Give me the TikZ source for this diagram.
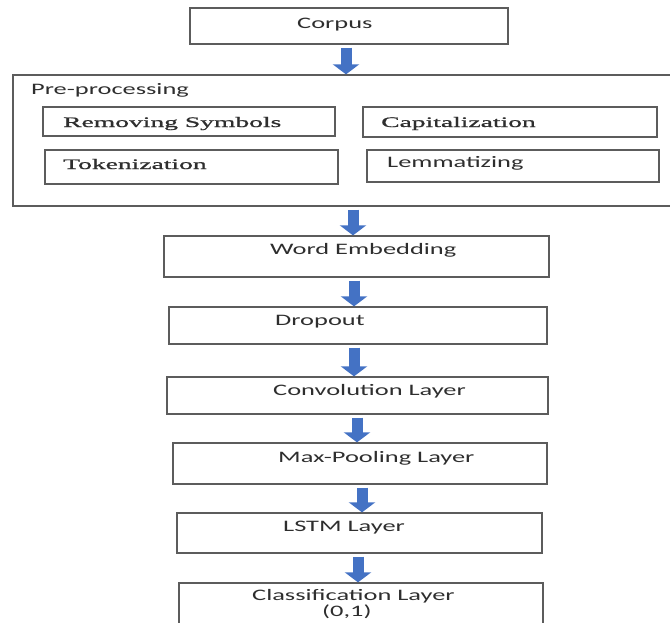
\documentclass[tikz,border=0pt]{standalone}
\usepackage{fontspec}
\setmainfont{Carlito}[FakeStretch=1.65]
\newfontfamily\oldserif{Liberation Serif}[FakeStretch=1.9, FakeBold=1.2]
\usetikzlibrary{arrows.meta}
\definecolor{flowblue}{HTML}{4472C4}
\definecolor{edgegray}{HTML}{5C5C5C}
\definecolor{inkgray}{HTML}{2E2E2E}
\tikzset{
  stage/.style={draw=edgegray, line width=1.3pt, inner sep=0pt},
  txt/.style={anchor=base west, inner sep=0pt, text=inkgray, font=\fontsize{16}{19}\selectfont},
  stxt/.style={txt, font=\fontsize{14.5}{17}\selectfont\oldserif},
  flow/.style={draw=flowblue, line width=11pt, -{Triangle[width=26pt,length=10pt]}, shorten <=3pt}
}
\begin{document}
\begin{tikzpicture}[x=1pt, y=-1pt]
            \useasboundingbox (0,0) rectangle (670,622);

            \node[stage, minimum width=318pt, minimum height=36pt] (corpus) at (349, 26) {};
            \node[stage, minimum width=677pt, minimum height=131pt] (pre) at (351.5, 140.5) {};
            \node[stage, minimum width=292pt, minimum height=29pt] (rem) at (189, 121.5) {};
            \node[stage, minimum width=294pt, minimum height=30pt] (cap) at (510, 122) {};
            \node[stage, minimum width=293pt, minimum height=34pt] (tok) at (191.5, 167) {};
            \node[stage, minimum width=292pt, minimum height=32pt] (lem) at (513, 166) {};
            \node[stage, minimum width=385pt, minimum height=41pt] (emb) at (356.5, 256.5) {};
            \node[stage, minimum width=378pt, minimum height=37pt] (drop) at (358, 325.5) {};
            \node[stage, minimum width=381pt, minimum height=37pt] (conv) at (357.5, 395.5) {};
            \node[stage, minimum width=374pt, minimum height=41pt] (pool) at (360, 463.5) {};
            \node[stage, minimum width=365pt, minimum height=40pt] (lstm) at (359.5, 533) {};
            \node[stage, minimum width=364pt, minimum height=67pt] (cls) at (361, 616.5) {};

            % labels
            \node[txt] (corpusT) at (297, 28) {Corpus};
            \node[txt] (preT) at (31, 94) {Pre-processing};
            \node[stxt] (remT) at (63, 127) {Removing Symbols};
            \node[stxt] (capT) at (381, 127) {Capitalization};
            \node[stxt] (tokT) at (63, 169) {Tokenization};
            \node[txt] (lemT) at (387, 167) {Lemmatizing};
            \node[txt] (embT) at (270, 254.5) {Word Embedding};
            \node[txt] (dropT) at (275, 325) {Dropout};
            \node[txt] (convT) at (273, 395.5) {Convolution Layer};
            \node[txt] (poolT) at (278, 462) {Max-Pooling Layer};
            \node[txt] (lstmT) at (283, 531) {LSTM Layer};
            \node[txt] (clsT) at (252, 600) {Classification Layer};
            \node[txt] (clsV) at (322, 616.5) {(0,1)};

            % corpus-pre
            \draw[flow] ([xshift=-3pt]corpus.south) -- ([xshift=-3pt]corpus.south |- pre.north);
            % pre-emb
            \draw[flow] ([xshift=1.5pt]pre.south) -- ([xshift=1.5pt]pre.south |- emb.north);
            % emb-drop
            \draw[flow] ([xshift=-2.5pt]emb.south) -- ([xshift=-2.5pt]emb.south |- drop.north);
            % drop-conv
            \draw[flow] ([xshift=-4pt]drop.south) -- ([xshift=-4pt]drop.south |- conv.north);
            % conv-pool
            \draw[flow] ([xshift=-0.5pt]conv.south) -- ([xshift=-0.5pt]conv.south |- pool.north);
            % pool-lstm
            \draw[flow] ([xshift=2pt]pool.south) -- ([xshift=2pt]pool.south |- lstm.north);
            % lstm-cls
            \draw[flow] ([xshift=-1.5pt]lstm.south) -- ([xshift=-1.5pt]lstm.south |- cls.north);
        \end{tikzpicture}
\end{document}
